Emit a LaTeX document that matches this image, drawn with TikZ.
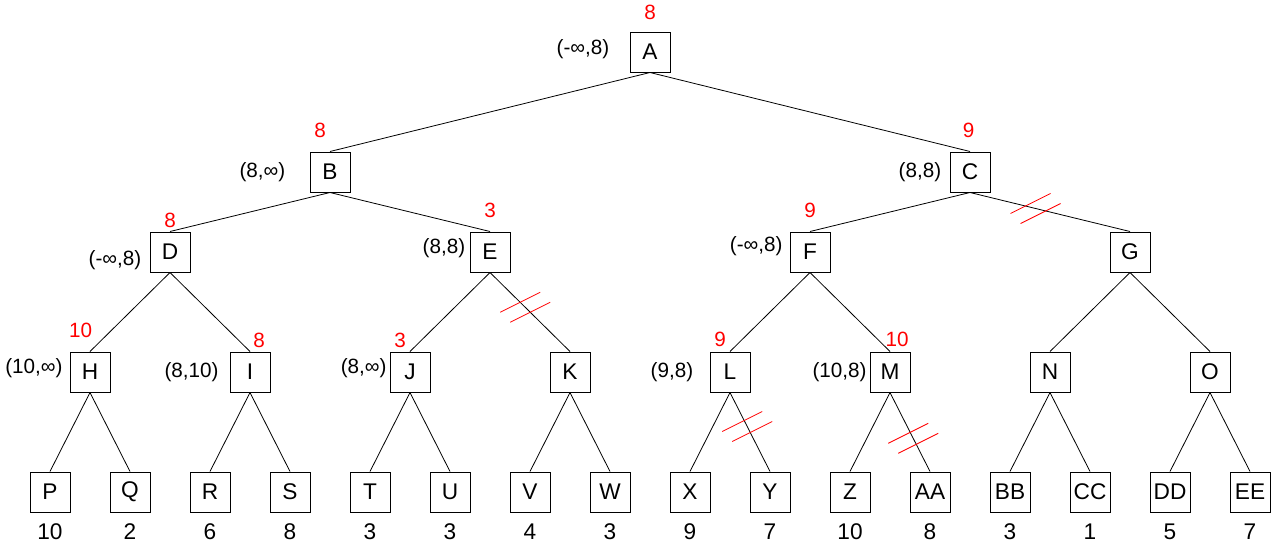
\documentclass[tikz,border=0pt]{standalone}
\usepackage{fontspec}
\setmainfont{Liberation Sans}
\usetikzlibrary{positioning,calc}
\newcommand{\prunemark}[1]{\draw[cut] ($(#1)+(-25,5)$) -- ($(#1)+(15,-15)$)
  ($(#1)+(-15,15)$) -- ($(#1)+(25,-5)$);}

\begin{document}
\begin{tikzpicture}[
  x=0.75pt, y=-0.75pt,
  state/.style={draw, line width=0.75pt, minimum size=30pt, inner sep=0pt,
                font=\fontsize{17}{20}\selectfont},
  bound/.style={inner sep=0pt, font=\fontsize{15.5}{18}\selectfont},
  minimax/.style={inner sep=0pt, text=red, font=\fontsize{15.5}{18}\selectfont},
  leafval/.style={inner sep=0pt, font=\fontsize{17}{20}\selectfont},
  edge/.style={line width=0.6pt},
  cut/.style={red, line width=0.6pt}]
\useasboundingbox (0,0) rectangle (1271,547);
% tree
\node[state] (A) at (650,52) {A};
\node[state] (B) at (330,172) {B};
\node[state] (C) at (970,172) {C};
\node[state] (D) at (170,252) {D};
\node[state] (E) at (490,252) {E};
\node[state] (F) at (810,252) {F};
\node[state] (G) at (1130,252) {G};
\node[state] (H) at (90,372) {H};
\node[state] (I) at (250,372) {I};
\node[state] (J) at (410,372) {J};
\node[state] (K) at (570,372) {K};
\node[state] (L) at (730,372) {L};
\node[state] (M) at (890,372) {M};
\node[state] (N) at (1050,372) {N};
\node[state] (O) at (1210,372) {O};
\node[state] (P) at (50,492) {P};
\node[state] (Q) at (130,492) {Q};
\node[state] (R) at (210,492) {R};
\node[state] (S) at (290,492) {S};
\node[state] (T) at (370,492) {T};
\node[state] (U) at (450,492) {U};
\node[state] (V) at (530,492) {V};
\node[state] (W) at (610,492) {W};
\node[state] (X) at (690,492) {X};
\node[state] (Y) at (770,492) {Y};
\node[state] (Z) at (850,492) {Z};
\node[state] (AA) at (930,492) {AA};
\node[state] (BB) at (1010,492) {BB};
\node[state] (CC) at (1090,492) {CC};
\node[state] (DD) at (1170,492) {DD};
\node[state] (EE) at (1250,492) {EE};
\draw[edge] (A.south) -- (B.north) (A.south) -- (C.north)
  (B.south) -- (D.north) (B.south) -- (E.north)
  (C.south) -- (F.north) (C.south) -- (G.north)
  (D.south) -- (H.north) (D.south) -- (I.north)
  (E.south) -- (J.north) (E.south) -- (K.north)
  (F.south) -- (L.north) (F.south) -- (M.north)
  (G.south) -- (N.north) (G.south) -- (O.north)
  (H.south) -- (P.north) (H.south) -- (Q.north)
  (I.south) -- (R.north) (I.south) -- (S.north)
  (J.south) -- (T.north) (J.south) -- (U.north)
  (K.south) -- (V.north) (K.south) -- (W.north)
  (L.south) -- (X.north) (L.south) -- (Y.north)
  (M.south) -- (Z.north) (M.south) -- (AA.north)
  (N.south) -- (BB.north) (N.south) -- (CC.north)
  (O.south) -- (DD.north) (O.south) -- (EE.north);
% leaf values
\node[leafval, below=8pt of P] (vP) {10};
\node[leafval, below=8pt of Q] (vQ) {2};
\node[leafval, below=8pt of R] (vR) {6};
\node[leafval, below=8pt of S] (vS) {8};
\node[leafval, below=8pt of T] (vT) {3};
\node[leafval, below=8pt of U] (vU) {3};
\node[leafval, below=8pt of V] (vV) {4};
\node[leafval, below=8pt of W] (vW) {3};
\node[leafval, below=8pt of X] (vX) {9};
\node[leafval, below=8pt of Y] (vY) {7};
\node[leafval, below=8pt of Z] (vZ) {10};
\node[leafval, below=8pt of AA] (vAA) {8};
\node[leafval, below=8pt of BB] (vBB) {3};
\node[leafval, below=8pt of CC] (vCC) {1};
\node[leafval, below=8pt of DD] (vDD) {5};
\node[leafval, below=8pt of EE] (vEE) {7};
% backed-up values
\node[minimax, above=9pt of A] (mA) {8};
\node[minimax, above=10.5pt of B, xshift=-7.5pt] (mB) {8};
\node[minimax, above=10.5pt of C, xshift=-1pt] (mC) {9};
\node[minimax, above=3pt of D] (mD) {8};
\node[minimax, above=10.5pt of E] (mE) {3};
\node[minimax, above=10.5pt of F] (mF) {9};
\node[minimax, above=10.5pt of H, xshift=-7pt] (mH) {10};
\node[minimax, above=3pt of I, xshift=6.75pt] (mI) {8};
\node[minimax, above=3pt of J, xshift=-7.5pt] (mJ) {3};
\node[minimax, above=3.75pt of L, xshift=-7.5pt] (mL) {9};
\node[minimax, above=3.75pt of M, xshift=5.25pt] (mM) {10};
% alpha-beta windows
\node[bound, left=15pt of A, yshift=2.25pt] (bA) {(-∞,8)};
\node[bound, left=18pt of B] (bB) {(8,∞)};
\node[bound, left=6pt of C] (bC) {(8,8)};
\node[bound, left=6pt of D, yshift=-6pt] (bD) {(-∞,8)};
\node[bound, left=3pt of E, yshift=3pt] (bE) {(8,8)};
\node[bound, left=5pt of F, yshift=4.5pt] (bF) {(-∞,8)};
\node[bound, left=5pt of H, yshift=3pt] (bH) {(10,∞)};
\node[bound, left=8pt of I] (bI) {(8,10)};
\node[bound, left=2pt of J, yshift=3pt] (bJ) {(8,∞)};
\node[bound, left=12pt of L] (bL) {(9,8)};
\node[bound, left=2pt of M] (bM) {(10,8)};
% cut-offs
\coordinate (cCG) at ($(C.south)!0.41!(G.north)$);
\coordinate (cEK) at ($(E.south)!0.44!(K.north)$);
\coordinate (cLY) at ($(L.south)!0.43!(Y.north)$);
\coordinate (cMAA) at ($(M.south)!0.58!(AA.north)$);
\prunemark{cCG}
\prunemark{cEK}
\prunemark{cLY}
\prunemark{cMAA}
\end{tikzpicture}
\end{document}
